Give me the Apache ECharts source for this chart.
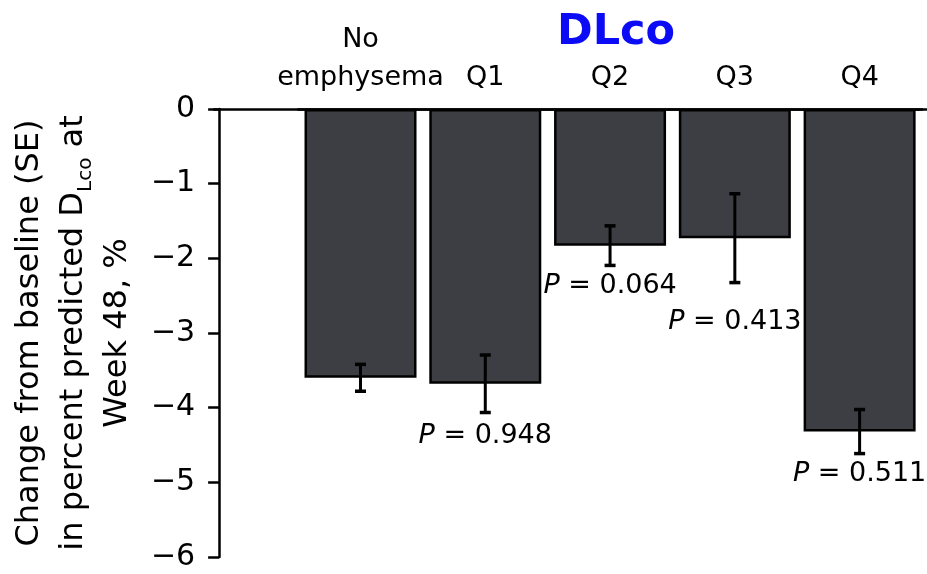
<!DOCTYPE html>
<html>
<head>
<meta charset="utf-8">
<script src="https://cdn.jsdelivr.net/npm/echarts@6/dist/echarts.min.js"></script>
<style>
html,body{margin:0;padding:0;background:#fff;}
#chart{width:927px;height:574px;}
</style>
</head>
<body>
<div id="chart"></div>
<script>
const categories = ['No\nemphysema', 'Q1', 'Q2', 'Q3', 'Q4'];
const changeValues = [-3.60, -3.68, -1.83, -1.73, -4.32];
const seValues = [0.18, 0.385, 0.265, 0.595, 0.295];
const pValues = ['', '0.948', '0.064', '0.413', '0.511'];
const yMin = -6, yMax = 0, yStep = 1;
const titleText = 'DLco';

// style-only: extra pixel gap between error bar bottom and the P label
const pLabelGap = [0, 10, 7, 26, 7];

const FONT = 'DejaVu Sans';
const chart = echarts.init(document.getElementById('chart'), null, {renderer: 'canvas'});

const option = {
  backgroundColor: '#fff',
  animation: false,
  title: {
    text: titleText,
    left: 552,
    top: 6,
    textStyle: {color: '#0b0bf5', fontSize: 43, fontWeight: 'bold', fontFamily: FONT}
  },
  grid: [
    {left: 293, right: 5, top: 109, bottom: 17},
    {left: 214, right: 0, top: 109, bottom: 17}
  ],
  xAxis: [
    {
      type: 'category', gridIndex: 0, data: categories, position: 'top',
      axisLine: {show: true, onZero: false, lineStyle: {color: '#000', width: 2.5}},
      axisTick: {show: false},
      axisLabel: {color: '#000', fontSize: 27, fontFamily: FONT, lineHeight: 38, margin: 12, interval: 0}
    },
    {
      type: 'value', gridIndex: 1, min: 0, max: 1, position: 'top',
      axisLine: {show: true, onZero: false, lineStyle: {color: '#000', width: 2.5}},
      axisTick: {show: false}, axisLabel: {show: false}, splitLine: {show: false}
    }
  ],
  yAxis: [
    {
      type: 'value', gridIndex: 0, min: yMin, max: yMax, interval: yStep, position: 'left', offset: 79,
      axisLine: {show: true, lineStyle: {color: '#000', width: 2.5}},
      axisTick: {show: true, length: 11, lineStyle: {color: '#000', width: 2.5}},
      splitLine: {show: false},
      axisLabel: {
        color: '#000', fontSize: 30, fontFamily: FONT, margin: 24,
        formatter: v => v < 0 ? '\u2212' + Math.abs(v) : String(v)
      },
      name: '{m|Change from baseline (SE)}\n{m|in percent predicted D}{s|Lco}{m| at}\n{m|Week 48, %}',
      nameLocation: 'middle',
      nameRotate: 90,
      nameGap: 66,
      nameTextStyle: {
        color: '#000', fontFamily: FONT, fontSize: 32, lineHeight: 44, align: 'center',
        rich: {
          m: {fontSize: 32, fontFamily: FONT, color: '#000', lineHeight: 44},
          s: {fontSize: 20, fontFamily: FONT, color: '#000', lineHeight: 44, verticalAlign: 'bottom'}
        }
      }
    },
    {type: 'value', gridIndex: 1, min: yMin, max: yMax, show: false}
  ],
  series: [
    {
      type: 'bar', xAxisIndex: 0, yAxisIndex: 0,
      data: changeValues,
      barWidth: 112,
      itemStyle: {color: '#3d3e43', borderColor: '#000', borderWidth: 2.5}
    },
    {
      type: 'custom', xAxisIndex: 0, yAxisIndex: 0, z: 5,
      data: changeValues.map((v, i) => [i, v, seValues[i]]),
      encode: {x: 0, y: 1},
      renderItem: function (params, api) {
        const i = api.value(0), m = api.value(1), s = api.value(2);
        const hi = api.coord([i, m + s]);
        const lo = api.coord([i, m - s]);
        const cx = hi[0];
        const hw = 5.5;
        const children = [
          {type: 'line', shape: {x1: cx, y1: hi[1], x2: cx, y2: lo[1]}, style: {stroke: '#000', lineWidth: 3}},
          {type: 'line', shape: {x1: cx - hw, y1: hi[1], x2: cx + hw, y2: hi[1]}, style: {stroke: '#000', lineWidth: 3.5}},
          {type: 'line', shape: {x1: cx - hw, y1: lo[1], x2: cx + hw, y2: lo[1]}, style: {stroke: '#000', lineWidth: 3.5}}
        ];
        const p = pValues[params.dataIndex];
        if (p) {
          children.push({
            type: 'text',
            style: {
              text: '{i|P} = ' + p,
              x: cx, y: lo[1] + pLabelGap[params.dataIndex],
              align: 'center', verticalAlign: 'top',
              fontSize: 27, fontFamily: FONT, fill: '#000',
              rich: {i: {fontStyle: 'italic', fontSize: 27, fontFamily: FONT, fill: '#000'}}
            }
          });
        }
        return {type: 'group', children: children};
      }
    }
  ]
};
chart.setOption(option);
</script>
</body>
</html>
